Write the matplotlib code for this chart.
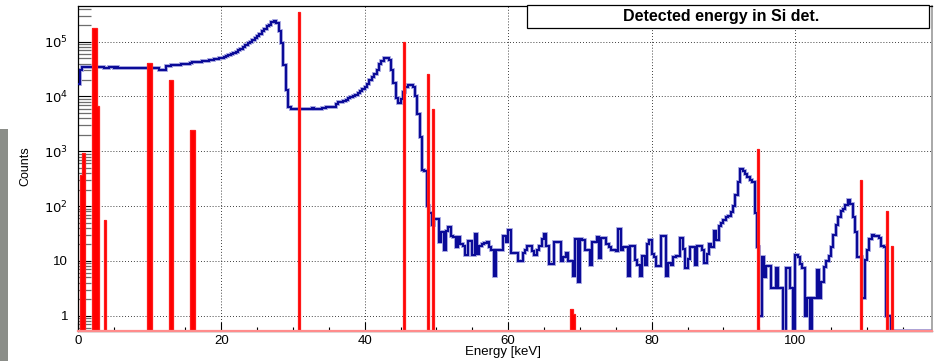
import numpy as np
import matplotlib.pyplot as plt
from matplotlib.patches import Rectangle

plt.rcParams['font.family'] = ['Liberation Sans', 'DejaVu Sans']

# histogram binning: 1/3 keV bins from 0 to 119 keV
bin_width = 1.0 / 3.0
x_max = 119.0

# detected energy in Si detector (blue), one value per bin
detected_counts = [
    1.7e4, 3.0e4, 3.5e4, 3.5e4, 3.5e4, 3.45e4, 3.4e4, 3.45e4, 3.4e4, 3.45e4,       # 0-3.3
    3.4e4, 3.3e4, 3.3e4, 3.45e4, 3.4e4, 3.3e4, 3.45e4, 3.35e4, 3.3e4, 3.3e4,       # 3.3-6.7
    3.3e4, 3.3e4, 3.3e4, 3.35e4, 3.3e4, 3.3e4, 3.3e4, 3.3e4, 3.3e4, 3.3e4,         # 6.7-10
    3.3e4, 3.3e4, 3.3e4, 3.3e4, 3.1e4, 3.1e4, 3.1e4, 3.6e4, 3.6e4, 3.7e4,          # 10-13.3
    3.7e4, 3.8e4, 3.8e4, 3.9e4, 3.9e4, 4.0e4, 4.0e4, 4.1e4, 4.2e4, 4.2e4,          # 13.3-16.7
    4.3e4, 4.3e4, 4.4e4, 4.4e4, 4.5e4, 4.6e4, 4.7e4, 4.8e4, 4.9e4, 5.0e4,          # 16.7-20
    5.1e4, 5.3e4, 5.5e4, 5.7e4, 5.9e4, 6.2e4, 6.6e4, 7.0e4, 7.5e4, 8.0e4,          # 20-23.3
    8.6e4, 9.5e4, 1.0e5, 1.06e5, 1.15e5, 1.27e5, 1.38e5, 1.56e5, 1.7e5, 1.93e5,    # 23.3-26.7
    2.05e5, 2.3e5, 2.35e5, 2.2e5, 1.6e5, 9.4e4, 3.8e4, 1.3e4, 6.5e3, 5.8e3,        # 26.7-30
    5.8e3, 5.8e3, 5.9e3, 6.0e3, 6.0e3, 5.9e3, 6.0e3, 6.0e3, 6.1e3, 5.9e3,          # 30-33.3
    5.8e3, 5.9e3, 6.1e3, 6.1e3, 6.3e3, 6.4e3, 6.4e3, 6.5e3, 7.3e3, 7.8e3,          # 33.3-36.7
    8.1e3, 8.4e3, 8.6e3, 9.2e3, 9.6e3, 1.0e4, 1.07e4, 1.15e4, 1.27e4, 1.36e4,      # 36.7-40
    1.5e4, 1.68e4, 2.0e4, 2.3e4, 2.55e4, 3.1e4, 4.0e4, 4.5e4, 5.0e4, 5.1e4,        # 40-43.3
    4.6e4, 3.1e4, 1.8e4, 9.5e3, 7.5e3, 9.0e3, 1.2e4, 1.5e4, 1.6e4, 1.6e4,          # 43.3-46.7
    1.5e4, 1.0e4, 4.8e3, 1.8e3, 450, 446, 100, 75, 45, 59,                         # 46.7-50
    59, 22, 34, 16, 35, 41, 29, 27, 18, 27,                                        # 50-53.3
    20, 19, 12.6, 23, 23, 12.6, 31, 13.6, 19, 20,                                  # 53.3-56.7
    21, 22, 18, 16, 5.4, 15.5, 15.5, 15.5, 29, 22,                                 # 56.7-60
    36, 14, 14, 14, 10, 10, 14, 16, 18.5, 18.5,                                    # 60-63.3
    15, 12.6, 16, 18.5, 25, 31, 19, 8.9, 8.9, 22,                                  # 63.3-66.7
    22, 22, 9.8, 12, 14, 9.8, 9.8, 5.3, 25, 4.2,                                   # 66.7-70
    25, 24, 16, 15.5, 8.5, 22, 22, 27, 11.5, 26,                                   # 70-73.3
    26, 20.5, 18, 16, 16, 15, 38, 15.7, 17.6, 18,                                  # 73.3-76.7
    5.3, 19, 19, 10.4, 8.5, 5.3, 12.2, 8.5, 20, 24,                                # 76.7-80
    13.6, 11.9, 8.1, 8.1, 28, 28, 5.3, 9.3, 8.5, 11.9,                             # 80-83.3
    12.2, 12.2, 26, 16.2, 7.4, 10.7, 18, 18, 8.5, 18.5,                            # 83.3-86.7
    18.5, 15.7, 9.3, 13.6, 20, 18, 35, 24, 43, 49,                                 # 86.7-90
    55, 63, 67, 77, 100, 160, 275, 480, 440, 390,                                  # 90-93.3
    340, 300, 280, 74, 18, 1, 12, 5, 8.2, 8.2,                                     # 93.3-96.7
    3.2, 3.2, 7.3, 3.2, 3.2, 0, 7.3, 7.3, 3.2, 0,                                  # 96.7-100
    12.6, 12, 8.9, 7.5, 1, 2.1, 0, 2.1, 2.1, 6.7,                                  # 100-103.3
    2.1, 4.2, 7.6, 10, 12.3, 18, 30, 45, 63, 83,                                   # 103.3-106.7
    90, 103, 128, 108, 63, 33, 12, 12, 2.1, 10.5,                                  # 106.7-110
    16, 25, 30, 28, 28, 26, 19, 18, 1, 1,                                          # 110-113.3
    0, 0, 0, 0, 0, 0, 0, 0, 0, 0, 0, 0, 0, 0, 0, 0, 0,                             # 113.3-119
]

# emitted lines (red), only the filled bins
line_bins = [1, 2, 6, 7, 8, 11, 29, 30, 38, 39, 47, 48, 92, 136, 146, 148,
             206, 207, 284, 327, 338, 340]
line_counts = [370, 950, 1.77e5, 1.77e5, 6.8e3, 56, 4.1e4, 4.1e4, 2.0e4, 2.0e4,
               2.4e3, 2.4e3, 3.5e5, 1.0e5, 2.6e4, 6.0e3,
               1.35, 1.06, 1.1e3, 300, 83, 18.5]

y_min, y_max = 0.526, 4.48e5

n_bins = len(detected_counts)
edges = np.arange(n_bins + 1) * bin_width
blue = np.clip(np.array(detected_counts, dtype=float), y_min, None)
red = np.full(n_bins, y_min)
red[line_bins] = line_counts

fig = plt.figure(figsize=(9.4, 3.61), dpi=100)
ax = fig.add_axes([77.7 / 940, 1 - 331 / 361, (931.5 - 77.7) / 940, (331 - 6) / 361])

# blue spectrum, with a soft halo like the original rendering
ax.stairs(blue, edges, baseline=None, color='#a9a9e2', lw=2.8, zorder=2)
ax.stairs(blue, edges, baseline=None, color='#0b0b98', lw=1.5, zorder=3)

# red lines drawn on top
ax.stairs(red, edges, baseline=y_min, fill=True, color='#ff0000', zorder=4)
ax.stairs(red, edges, baseline=y_min, color='#ff1a1a', lw=0.9, zorder=4)
ax.axhline(y_min, color='#ff8c8c', lw=1.6, zorder=5, clip_on=False)

ax.set_yscale('log')
ax.set_xlim(0, x_max)
ax.set_ylim(y_min, y_max)

ax.set_xticks([0, 20, 40, 60, 80, 100])
ax.set_xticks(np.arange(5, x_max, 5), minor=True)
ax.set_yticks([1, 10, 1e2, 1e3, 1e4, 1e5])
ax.set_yticklabels(['1', '10', '$10^{2}$', '$10^{3}$', '$10^{4}$', '$10^{5}$'])

ax.grid(True, which='major', color='black', linestyle=(0, (1, 2.5)), lw=0.6, zorder=1)

ax.tick_params(axis='x', which='major', direction='in', length=6.5, width=0.8,
               top=False, labelsize=9.5, pad=3)
ax.tick_params(axis='x', which='minor', direction='in', length=3.2, width=0.8, top=False)
ax.tick_params(axis='y', which='major', direction='in', length=9.5, width=0.8,
               right=False, labelsize=9.5, pad=7)
ax.tick_params(axis='y', which='minor', direction='in', length=9.5, width=0.9,
               color='#6e6e6e', right=False)

for side in ['top', 'left', 'bottom']:
    ax.spines[side].set_color('black')
    ax.spines[side].set_linewidth(0.9)
ax.spines['right'].set_color('#9a9a9a')
ax.spines['right'].set_linewidth(1.2)

fig.text(25 / 940, 1 - 166 / 361, 'Counts', rotation=90, ha='center', va='center', fontsize=9)
fig.text(503 / 940, 1 - 352 / 361, 'Energy [keV]', ha='center', va='center', fontsize=9.5)

# title box
fig.patches.append(Rectangle((527 / 940, 1 - 28 / 361), (929 - 527) / 940, 23 / 361,
                             transform=fig.transFigure, facecolor='white',
                             edgecolor='black', lw=0.9, zorder=10))
fig.text(721 / 940, 1 - 16.5 / 361, 'Detected energy in Si det.', ha='center', va='center',
         fontsize=11.5, fontweight='bold', zorder=11)

# grey strip at the left border of the original image
fig.patches.append(Rectangle((0, 0), 8.3 / 940, (361 - 129) / 361, transform=fig.transFigure,
                             facecolor='#8b8e89', edgecolor='none'))

fig.savefig('out.png', dpi=100)
